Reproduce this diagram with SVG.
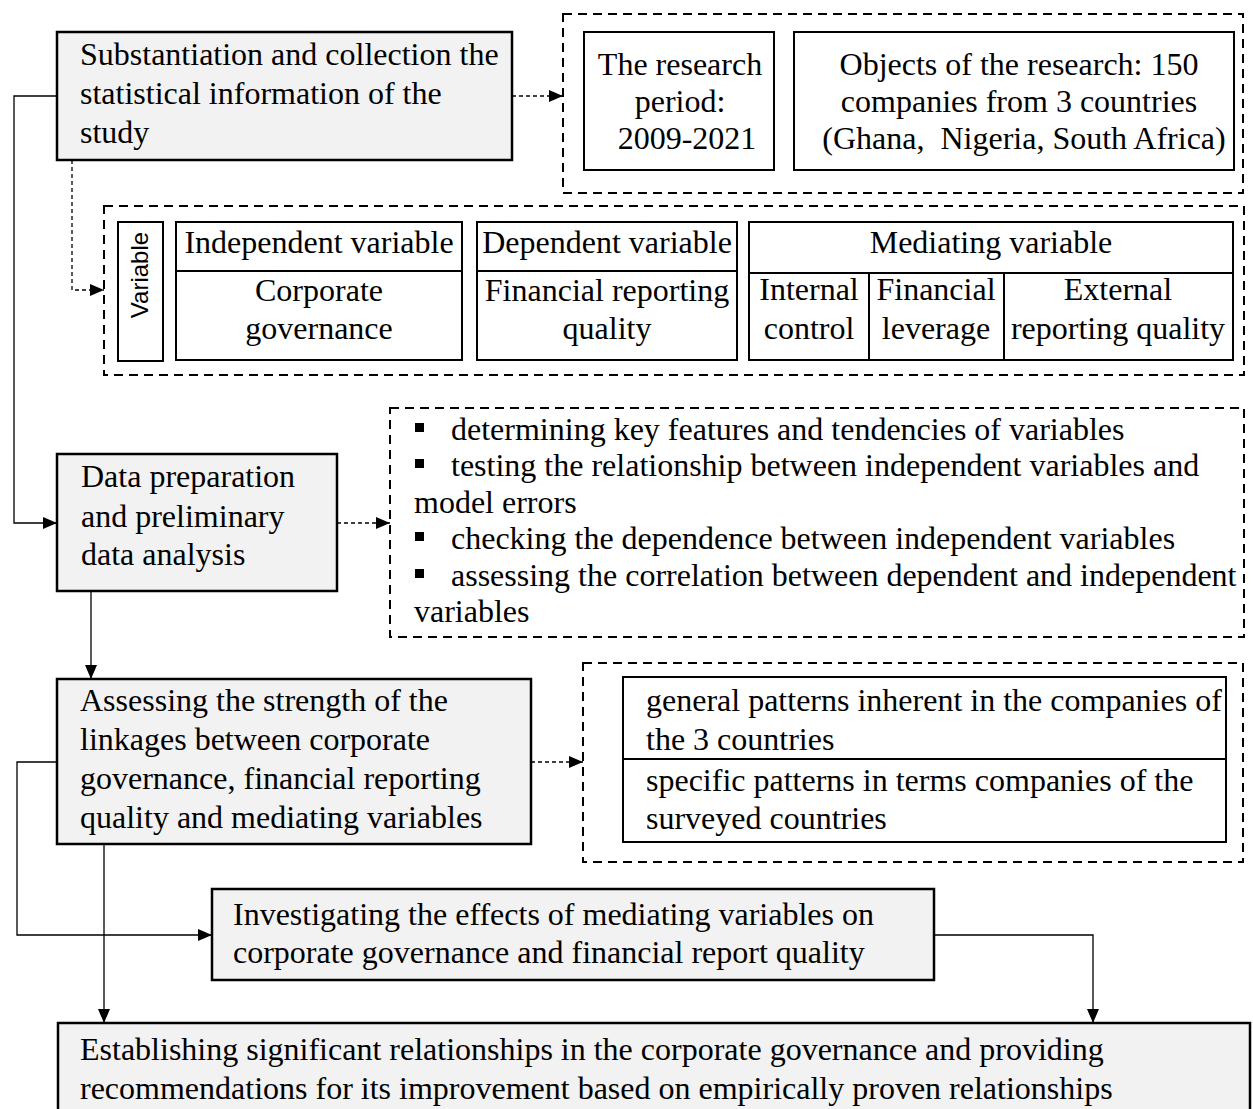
<svg xmlns="http://www.w3.org/2000/svg" width="1253" height="1109" viewBox="0 0 1253 1109">
  <defs>
    <style>
      .node{fill:#f2f2f2;stroke:#000;stroke-width:2.5}
      .cell{fill:#fff;stroke:#000;stroke-width:2}
      .grp{fill:none;stroke:#000;stroke-width:2;stroke-dasharray:9 6}
      .t{font-family:"Liberation Serif","Times New Roman",serif;font-size:32px;fill:#000}
      .s{font-family:"Liberation Sans",Arial,sans-serif;font-size:24px;fill:#000}
      .c{text-anchor:middle}
      .link{fill:none;stroke:#000;stroke-width:1.3}
      .dot{fill:none;stroke:#000;stroke-width:1.3;stroke-dasharray:4 3}
    </style>
    <marker id="arrow" viewBox="0 0 14 12" refX="14" refY="6" markerWidth="14" markerHeight="12" markerUnits="userSpaceOnUse" orient="auto">
      <path d="M0,0 L14,6 L0,12 z" fill="#000"/>
    </marker>
  </defs>
  <rect width="1253" height="1109" fill="#fff"/>

  <!-- step 1: data collection -->
  <g id="collect">
    <rect class="node" x="57" y="32" width="455" height="128"/>
    <text class="t" x="80" y="65">Substantiation and collection the</text>
    <text class="t" x="80" y="104">statistical information of the</text>
    <text class="t" x="80" y="143">study</text>
  </g>

  <!-- research scope -->
  <g id="scope">
    <rect class="grp" x="563" y="14" width="680" height="179"/>
    <rect class="cell" x="584" y="32" width="190" height="138"/>
    <text class="t c" x="680" y="75">The research</text>
    <text class="t c" x="680" y="112">period:</text>
    <text class="t c" x="687" y="149">2009-2021</text>
    <rect class="cell" x="794" y="32" width="440" height="138"/>
    <text class="t c" x="1019" y="75">Objects of the research: 150</text>
    <text class="t c" x="1019" y="112">companies from 3 countries</text>
    <text class="t c" x="1024" y="149">(Ghana,&#160; Nigeria, South Africa)</text>
  </g>

  <!-- variables table -->
  <g id="variables">
    <rect class="grp" x="104" y="206" width="1140" height="169"/>
    <rect class="cell" x="118" y="222" width="45" height="139"/>
    <text class="s c" transform="translate(148,275) rotate(-90)">Variable</text>

    <rect class="cell" x="176" y="222" width="286" height="138"/>
    <line x1="176" y1="271" x2="462" y2="271" stroke="#000" stroke-width="2"/>
    <text class="t c" x="319" y="253">Independent variable</text>
    <text class="t c" x="319" y="301">Corporate</text>
    <text class="t c" x="319" y="339">governance</text>

    <rect class="cell" x="477" y="222" width="260" height="138"/>
    <line x1="477" y1="271" x2="737" y2="271" stroke="#000" stroke-width="2"/>
    <text class="t c" x="607" y="253">Dependent variable</text>
    <text class="t c" x="607" y="301">Financial reporting</text>
    <text class="t c" x="607" y="339">quality</text>

    <rect class="cell" x="749" y="222" width="484" height="138"/>
    <line x1="749" y1="273" x2="1233" y2="273" stroke="#000" stroke-width="2"/>
    <line x1="869" y1="273" x2="869" y2="360" stroke="#000" stroke-width="2"/>
    <line x1="1004" y1="273" x2="1004" y2="360" stroke="#000" stroke-width="2"/>
    <text class="t c" x="991" y="253">Mediating variable</text>
    <text class="t c" x="809" y="300">Internal</text>
    <text class="t c" x="809" y="339">control</text>
    <text class="t c" x="936" y="300">Financial</text>
    <text class="t c" x="936" y="339">leverage</text>
    <text class="t c" x="1118" y="300">External</text>
    <text class="t c" x="1118" y="339">reporting quality</text>
  </g>

  <!-- step 2: preparation -->
  <g id="prepare">
    <rect class="node" x="57" y="454" width="280" height="137"/>
    <text class="t" x="81" y="487">Data preparation</text>
    <text class="t" x="81" y="527">and preliminary</text>
    <text class="t" x="81" y="565">data analysis</text>
  </g>

  <!-- preliminary analysis tasks -->
  <g id="tasks">
    <rect class="grp" x="390" y="408" width="854" height="229"/>
    <rect x="415" y="423" width="9" height="9" fill="#000"/>
    <text class="t" x="451" y="440">determining key features and tendencies of variables</text>
    <rect x="415" y="459" width="9" height="9" fill="#000"/>
    <text class="t" x="451" y="476">testing the relationship between independent variables and</text>
    <text class="t" x="414" y="513">model errors</text>
    <rect x="415" y="532" width="9" height="9" fill="#000"/>
    <text class="t" x="451" y="549">checking the dependence between independent variables</text>
    <rect x="415" y="569" width="9" height="9" fill="#000"/>
    <text class="t" x="451" y="586">assessing the correlation between dependent and independent</text>
    <text class="t" x="414" y="622">variables</text>
  </g>

  <!-- step 3: linkage strength -->
  <g id="assess">
    <rect class="node" x="57" y="679" width="474" height="165"/>
    <text class="t" x="80" y="711">Assessing the strength of the</text>
    <text class="t" x="80" y="750">linkages between corporate</text>
    <text class="t" x="80" y="789">governance, financial reporting</text>
    <text class="t" x="80" y="828">quality and mediating variables</text>
  </g>

  <!-- patterns -->
  <g id="patterns">
    <rect class="grp" x="583" y="663" width="660" height="199"/>
    <rect class="cell" x="623" y="677" width="603" height="165"/>
    <line x1="623" y1="759" x2="1226" y2="759" stroke="#000" stroke-width="2"/>
    <text class="t" x="646" y="711">general patterns inherent in the companies of</text>
    <text class="t" x="646" y="750">the 3 countries</text>
    <text class="t" x="646" y="791">specific patterns in terms companies of the</text>
    <text class="t" x="646" y="829">surveyed countries</text>
  </g>

  <!-- step 4: mediating effects -->
  <g id="investigate">
    <rect class="node" x="212" y="889" width="722" height="91"/>
    <text class="t" x="233" y="925">Investigating the effects of mediating variables on</text>
    <text class="t" x="233" y="963">corporate governance and financial report quality</text>
  </g>

  <!-- step 5: conclusions -->
  <g id="establish">
    <rect class="node" x="58" y="1023" width="1192" height="100"/>
    <text class="t" x="80" y="1060">Establishing significant relationships in the corporate governance and providing</text>
    <text class="t" x="80" y="1099">recommendations for its improvement based on empirically proven relationships</text>
  </g>

  <!-- connectors -->
  <g id="connectors">
    <path class="dot" d="M512,96 H563" marker-end="url(#arrow)"/>
    <path class="link" d="M57,96 H14 V523 H57" marker-end="url(#arrow)"/>
    <path class="dot" d="M72,160 V290 H104" marker-end="url(#arrow)"/>
    <path class="dot" d="M337,523 H390" marker-end="url(#arrow)"/>
    <path class="link" d="M91,591 V679" marker-end="url(#arrow)"/>
    <path class="dot" d="M531,762 H583" marker-end="url(#arrow)"/>
    <path class="link" d="M57,762 H17 V935 H212" marker-end="url(#arrow)"/>
    <path class="link" d="M104,844 V1023" marker-end="url(#arrow)"/>
    <path class="link" d="M934,935 H1093 V1023" marker-end="url(#arrow)"/>
  </g>
</svg>
